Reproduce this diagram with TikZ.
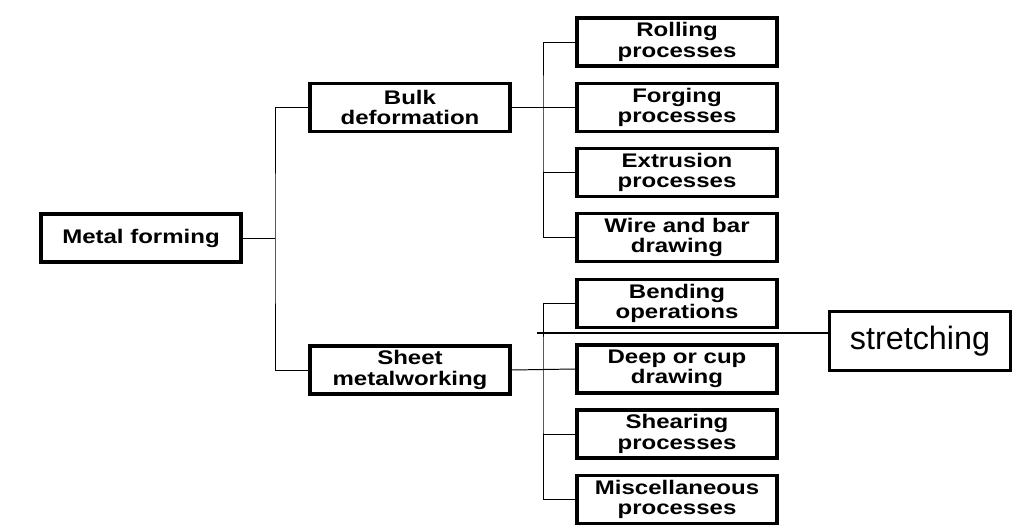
\documentclass[tikz,border=0pt]{standalone}
\usepackage{fontspec}
\setmainfont{Liberation Sans}
\newfontfamily\boxfont{Liberation Sans}[FakeStretch=1.22]
\usepackage{tikz}

\tikzset{
    procbox/.style={draw, line width=2.5pt, fill=white, align=center,
        font=\boxfont\fontsize{14}{14.4}\selectfont\bfseries,
        minimum width=5cm, minimum height=1.2cm, inner sep=1pt},
    link/.style={draw, line width=0.7pt}
}

\begin{document}
\begin{tikzpicture}[x=0.025cm, y=-0.025cm]
    \useasboundingbox (0,0) rectangle (1024,530);

    % Main boxes
    \node[procbox] (metal) at (141,238) {Metal forming};
    \node[procbox] (bulk) at (410,107.5) {Bulk\\deformation};
    \node[procbox] (sheet) at (410,370) {Sheet\\metalworking};

    % Process boxes
    \node[procbox] (rolling)   at (677,42)    {Rolling\\processes};
    \node[procbox] (forging)   at (677,107.5) {Forging\\processes};
    \node[procbox] (extrusion) at (677,172.5) {Extrusion\\processes};
    \node[procbox] (wire)      at (677,237.5) {Wire and bar\\drawing};
    \node[procbox] (bending)   at (677,303.5) {Bending\\operations};
    \node[procbox] (deep)      at (677,369)   {Deep or cup\\drawing};
    \node[procbox] (shearing)  at (677,434)   {Shearing\\processes};
    \node[procbox] (misc)      at (677,499.5) {Miscellaneous\\processes};

    \node[draw, line width=2.3pt, minimum width=4.525cm, minimum height=1.475cm,
        font=\fontsize{23}{24}\selectfont] (stretch) at (920,341) {stretching};

    % Trunk from metal forming
    \coordinate (trunk) at (275,238);
    \draw[link] (metal.east) -- (trunk);
    \draw[link] (bulk.west) -| (trunk) |- (sheet.west);

    % Bulk deformation branch
    \coordinate (bulkbus) at (543,107.5);
    \draw[link] (bulk.east) -- (forging.west);
    \draw[link] (rolling.west) -| (bulkbus) |- (wire.west);
    \draw[link] (bulkbus |- extrusion.west) -- (extrusion.west);

    % Sheet metalworking branch
    \coordinate (sheetbus) at (543,369);
    \draw[link] (sheet.east) -- (deep.west);
    \draw[link] (bending.west) -| (sheetbus) |- (misc.west);
    \draw[link] (sheetbus |- shearing.west) -- (shearing.west);

    % Stretching line
    \coordinate (cut) at (537,333);
    \draw[line width=1.6pt] (cut) -- (cut -| stretch.west);
\end{tikzpicture}
\end{document}
